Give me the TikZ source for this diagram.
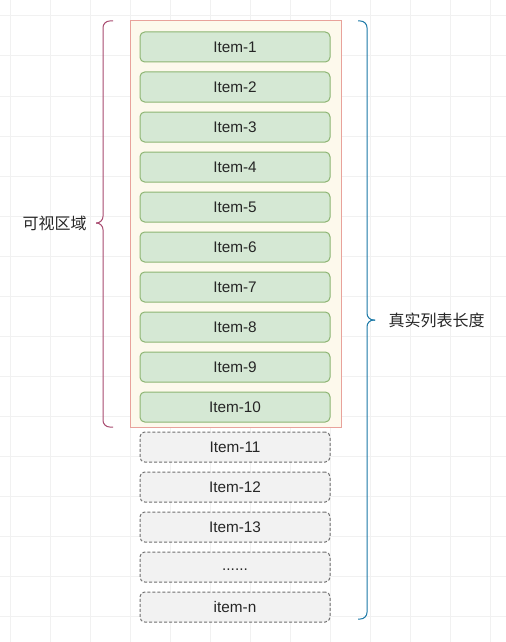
\documentclass[tikz,border=0pt]{standalone}
\usepackage{fontspec}
\setmainfont{Liberation Sans}
\newfontfamily\cjkfont{Noto Sans CJK SC}
\usetikzlibrary{positioning}

\definecolor{gridgray}{HTML}{F1F1F1}
\definecolor{viewred}{HTML}{E8A29B}
\definecolor{viewfill}{HTML}{FDF9EC}
\definecolor{itemgreen}{HTML}{8DB572}
\definecolor{itemfill}{HTML}{D5E8D4}
\definecolor{dashgray}{HTML}{6E6E6E}
\definecolor{hiddenfill}{HTML}{F2F2F2}
\definecolor{leftbrace}{HTML}{A84A6F}
\definecolor{rightbrace}{HTML}{1A78A6}
\definecolor{textgray}{HTML}{262626}

\tikzset{every picture/.style={line width=0.75pt}}
\tikzset{
  gridline/.style={draw=gridgray, line width=0.75pt},
  shownitem/.style={draw=itemgreen, fill=itemfill, rounded corners=3.5pt, minimum width=142.5pt, minimum height=22.5pt, inner sep=0pt, text=textgray, font=\fontsize{11.5}{13}\selectfont},
  hiddenitem/.style={shownitem, draw=dashgray, fill=hiddenfill, dash pattern=on 2.25pt off 1.5pt},
  bracelabel/.style={inner sep=0.75pt, text=textgray, font=\cjkfont\fontsize{12}{14}\selectfont}
}

\begin{document}
\begin{tikzpicture}[x=0.75pt,y=0.75pt,yscale=-1,xscale=1]
\useasboundingbox (0,0) rectangle (506,642);

% Background grid
\foreach \gx in {10,50,...,490} \draw[gridline] (\gx,0) -- (\gx,642);
\foreach \gy in {16,56,...,616} \draw[gridline] (0,\gy) -- (506,\gy);

%Shape: Rectangle [visible area]
\node[draw=viewred, fill=viewfill, minimum width=158.25pt, minimum height=304.5pt, inner sep=0pt] (viewport) at (235.5,224) {};

%Shape: Rounded Rect [rendered items]
\node[shownitem] (item1) at (235,47) {Item-1};
\node[shownitem] (item2) at (235,87) {Item-2};
\node[shownitem] (item3) at (235,127) {Item-3};
\node[shownitem] (item4) at (235,167) {Item-4};
\node[shownitem] (item5) at (235,207) {Item-5};
\node[shownitem] (item6) at (235,247) {Item-6};
\node[shownitem] (item7) at (235,287) {Item-7};
\node[shownitem] (item8) at (235,327) {Item-8};
\node[shownitem] (item9) at (235,367) {Item-9};
\node[shownitem] (item10) at (235,407) {Item-10};

%Shape: Rounded Rect [items below the fold]
\node[hiddenitem] (item11) at (235,447) {Item-11};
\node[hiddenitem] (item12) at (235,487) {Item-12};
\node[hiddenitem] (item13) at (235,527) {Item-13};
\node[hiddenitem] (itemdots) at (235,567) {\strut......};
\node[hiddenitem] (itemn) at (235,607) {item-n};

%Shape: Brace [visible area]
\coordinate (ltop) at (113,21);
\coordinate (lspine) at (103,223);
\coordinate (ltip) at (96,223);
\coordinate (lbot) at (113,427);
\draw[leftbrace, rounded corners=5pt] (ltop) -| (lspine) -- (ltip);
\draw[leftbrace, rounded corners=5pt] (ltip) -- (lspine) |- (lbot);

%Shape: Brace [whole list]
\coordinate (rtop) at (358,21);
\coordinate (rspine) at (367,320);
\coordinate (rtip) at (375,320);
\coordinate (rbot) at (358,619);
\draw[rightbrace, rounded corners=5pt] (rtop) -| (rspine) -- (rtip);
\draw[rightbrace, rounded corners=5pt] (rtip) -- (rspine) |- (rbot);

% Text Node
\node[bracelabel, left=6pt of ltip] (viewlabel) {可视区域};
% Text Node
\node[bracelabel, right=9pt of rtip] (listlabel) {真实列表长度};

\end{tikzpicture}
\end{document}
